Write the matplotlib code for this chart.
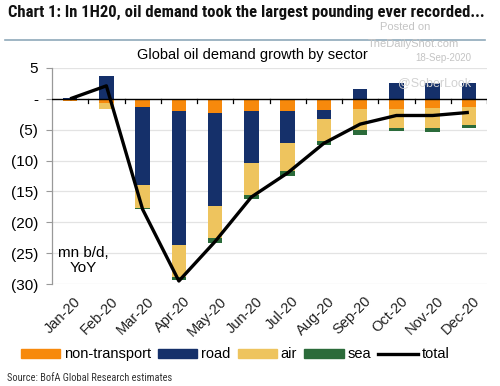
import matplotlib
matplotlib.use("Agg")
import matplotlib.pyplot as plt
import numpy as np
from matplotlib.patches import Patch
from matplotlib.lines import Line2D
import matplotlib.transforms as mtransforms
from matplotlib import font_manager

months = ["Jan-20", "Feb-20", "Mar-20", "Apr-20", "May-20", "Jun-20",
          "Jul-20", "Aug-20", "Sep-20", "Oct-20", "Nov-20", "Dec-20"]
non_transport = [-0.3, -0.7, -1.25, -1.9, -2.3, -2.0, -1.95, -1.8, -1.7, -1.7, -1.5, -1.25]
road = [0.1, 3.7, -12.65, -21.7, -15.0, -8.4, -5.25, -1.45, 1.6, 2.5, 2.5, 2.5]
air = [-0.1, -0.9, -3.8, -5.2, -5.2, -5.2, -4.5, -3.55, -3.3, -3.05, -3.25, -2.95]
sea = [0.0, 0.0, -0.2, -0.6, -0.8, -0.6, -0.8, -0.65, -0.8, -0.45, -0.55, -0.55]
total = [0.0, 2.1, -17.9, -29.5, -23.1, -15.9, -12.0, -7.2, -4.1, -2.7, -2.7, -2.2]
yticks = [5, 0, -5, -10, -15, -20, -25, -30]
ytick_labels = ["5", "-", "(5)", "(10)", "(15)", "(20)", "(25)", "(30)"]

colors = {"non-transport": "#F7890C", "road": "#15306A", "air": "#EEC45E", "sea": "#2B6B3A"}

available = {f.name for f in font_manager.fontManager.ttflist}
narrow = None
for cand in ["Liberation Sans Narrow", "Roboto Condensed", "Open Sans Condensed", "DejaVu Sans Condensed"]:
    if cand in available:
        narrow = cand
        break

fig = plt.figure(figsize=(5.0, 3.86), dpi=100)
fig.patch.set_facecolor("white")
ax = fig.add_axes([0.104, 0.264, 0.870, 0.560])

x = np.arange(len(months))
w = 0.4
pos_base = np.zeros(len(months))
neg_base = np.zeros(len(months))
for name, vals in [("non-transport", non_transport), ("road", road), ("air", air), ("sea", sea)]:
    v = np.array(vals, dtype=float)
    base = np.where(v >= 0, pos_base, neg_base)
    ax.bar(x, v, width=w, bottom=base, color=colors[name], zorder=3, linewidth=0)
    pos_base = pos_base + np.where(v >= 0, v, 0)
    neg_base = neg_base + np.where(v < 0, v, 0)

ax.plot(x, total, color="black", linewidth=2.4, zorder=5, solid_capstyle="butt")

ax.set_xlim(-0.5, 11.5)
ax.set_ylim(-30, 5)
ax.set_yticks(yticks)
ax.set_yticklabels(ytick_labels, fontsize=11, family="Liberation Sans")
ax.tick_params(axis="y", length=4, color="#999999", pad=6)
for yv in yticks:
    if yv != 0:
        ax.axhline(yv, color="#e3e3e3", linewidth=0.9, zorder=0)
ax.axhline(0, color="black", linewidth=1.0, zorder=4)
ax.set_xticks(np.arange(-0.5, 12, 1.0))
ax.set_xticklabels([])
ax.tick_params(axis="x", length=0)
for b in np.arange(0.5, 12, 1.0):
    ax.plot([b, b], [0, -0.6], color="black", linewidth=0.9, zorder=4)

for s in ["top", "right", "bottom"]:
    ax.spines[s].set_visible(False)
ax.spines["left"].set_color("#999999")
ax.spines["left"].set_linewidth(0.9)

trans = mtransforms.blended_transform_factory(ax.transData, ax.transAxes)
offset = mtransforms.ScaledTranslation(4 / 100, -10 / 100, fig.dpi_scale_trans)
for i, m in enumerate(months):
    ax.text(i, 0, m, transform=trans + offset, rotation=45, ha="right", va="top",
            rotation_mode="anchor", fontsize=10.5, family="Liberation Sans", color="#222222")

ax.text(0.072, 0.11, "mn b/d,\nYoY", transform=ax.transAxes, ha="center", va="center",
        fontsize=11, family="Liberation Sans", linespacing=1.1)

# titles
title = "Chart 1: In 1H20, oil demand took the largest pounding ever recorded..."
if narrow:
    fig.text(0.016, 0.968, title, fontsize=12, fontweight="bold", family=narrow,
             ha="left", va="center", color="#111111")
else:
    fig.text(0.016, 0.968, title, fontsize=9.6, fontweight="bold", family="Liberation Sans",
             ha="left", va="center", color="#111111")
fig.add_artist(Line2D([0.01, 0.97], [0.896, 0.896], color="#8fa9ba", linewidth=1.2))
fig.text(0.504, 0.857, "Global oil demand growth by sector", fontsize=10.5, family="Liberation Sans",
         ha="center", va="center")

# watermark
fig.text(0.81, 0.930, "Posted on", fontsize=8, color="#c4c4c4", family="Liberation Sans", ha="center", va="center")
fig.text(0.827, 0.886, "TheDailyShot.com", fontsize=8, color="#c4c4c4", family="Liberation Sans", ha="center", va="center")
fig.text(0.887, 0.850, "18-Sep-2020", fontsize=7, color="#c4c4c4", family="Liberation Sans", ha="center", va="center")
fig.text(0.87, 0.785, "@SoberLook", fontsize=9, color="#d2d2d2", family="Liberation Sans", ha="center", va="center", zorder=10)

handles = [Patch(color=colors["non-transport"]), Patch(color=colors["road"]),
           Patch(color=colors["air"]), Patch(color=colors["sea"]),
           Line2D([0], [0], color="black", linewidth=2.4)]
labels = ["non-transport", "road", "air", "sea", "total"]
leg = fig.legend(handles, labels, loc="center", bbox_to_anchor=(0.47, 0.082), ncol=5,
                 frameon=False, prop={"family": "Liberation Sans", "size": 10.5},
                 handlelength=2.7, handleheight=0.55, handletextpad=0.25, columnspacing=0.5)

fig.text(0.014, 0.022, "Source: BofA Global Research estimates", fontsize=7.5,
         family=narrow if narrow else "Liberation Sans", ha="left", va="center", color="#333333")

fig.savefig("out.png", dpi=100, facecolor="white")
